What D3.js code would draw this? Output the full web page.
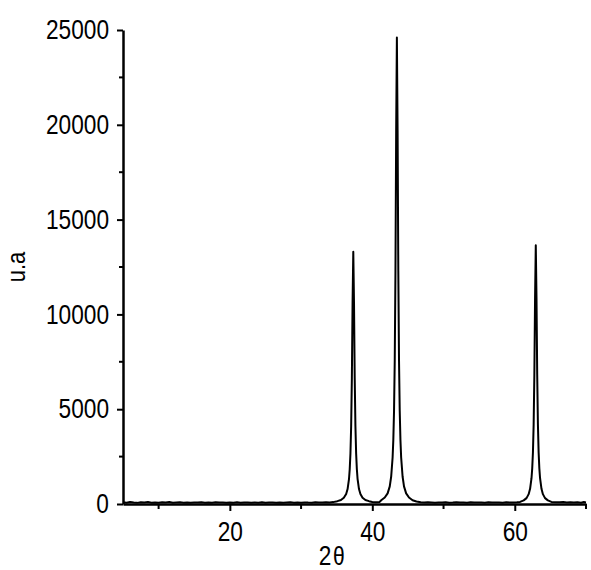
<!DOCTYPE html>
<html><head><meta charset="utf-8">
<script src="https://cdn.jsdelivr.net/npm/d3@7"></script>
<style>
body{margin:0;background:#fff;}
text{font-family:"Liberation Sans",Arial,sans-serif;fill:#000;}
</style></head>
<body><svg id="c" width="591" height="570"></svg>
<script>
const twoTheta = [
  5,5.5,6,6.5,7,7.5,8,8.5,9,9.5,
  10,10.5,11,11.5,12,12.5,13,13.5,14,14.5,
  15,15.5,16,16.5,17,17.5,18,18.5,19,19.5,
  20,20.5,21,21.5,22,22.5,23,23.5,24,24.5,
  25,25.5,26,26.5,27,27.5,28,28.5,29,29.5,
  30,30.5,31,31.5,32,32.5,33,33.5,34,34.5,
  35.1,35.6,36.0,36.33,36.53,36.73,36.83,36.93,37.03,37.13,
  37.23,37.33,37.43,37.53,37.63,37.73,37.83,37.93,38.13,38.33,
  38.63,39.03,39.53,40,40.5,41,41.25,41.75,42.15,42.45,
  42.65,42.85,42.95,43.05,43.15,43.25,43.35,43.45,43.55,43.65,
  43.75,43.85,43.95,44.05,44.25,44.45,44.75,45.15,45.65,46.2,
  46.8,47.3,47.8,48.3,48.8,49.3,49.8,50.3,50.8,51.3,
  51.8,52.3,52.8,53.3,53.8,54.3,54.8,55.3,55.8,56.3,
  56.8,57.3,57.8,58.3,58.8,59.3,59.8,60.3,60.75,61.25,
  61.65,61.95,62.15,62.35,62.45,62.55,62.65,62.75,62.85,62.95,
  63.05,63.15,63.25,63.35,63.45,63.55,63.75,63.95,64.25,64.65,
  65.15,65.8,66.3,66.8,67.3,67.8,68.3,68.8,69.3,69.7,
  70
];
const intensity = [
  90,70,110,80,60,95,75,100,70,85,
  65,90,80,105,70,85,95,70,80,60,
  85,75,95,70,80,65,90,75,85,60,
  80,70,90,65,75,85,60,80,70,90,
  65,75,85,70,80,60,75,90,70,80,
  65,85,75,70,90,80,75,95,85,100,
  150,210,330,530,790,1330,1840,2660,4100,6650,
  10640,13300,10640,6650,4100,2660,1840,1330,790,530,
  330,210,150,110,90,100,200,340,560,930,
  1450,2450,3380,4900,7560,12300,19700,24600,19700,12300,
  7560,4900,3380,2450,1450,930,560,340,200,130,
  95,75,90,80,70,85,75,90,70,80,
  95,75,85,70,90,80,75,85,70,90,
  80,75,85,70,90,80,85,95,110,190,
  310,520,800,1360,1880,2720,4190,6820,10900,13650,
  10900,6820,4190,2720,1880,1360,800,520,310,190,
  110,95,90,110,80,95,75,90,70,100,
  85
];
const xTicksMajor = [20,40,60];
const xTicksMinor = [10,30,50,70];
const yTicksMajor = [0,5000,10000,15000,20000,25000];
const yTicksMinor = [2500,7500,12500,17500,22500];
const xLabel = "2";
const xLabelSym = "θ";
const yLabel = "u.a";

const svg = d3.select("#c");
const x = d3.scaleLinear().domain([5,70]).range([123,586]);
const y = d3.scaleLinear().domain([0,25000]).range([504,30]);
const sx = 0.84;

function squeeze(sel){
  sel.each(function(){
    const w = this.getComputedTextLength();
    d3.select(this).attr("textLength", w*sx).attr("lengthAdjust","spacingAndGlyphs");
  });
}

// data line
const pts = d3.zip(twoTheta, intensity);
svg.append("path").datum(pts)
  .attr("fill","none").attr("stroke","#000").attr("stroke-width",2)
  .attr("stroke-linejoin","round")
  .attr("d", d3.line().x(d=>x(d[0])).y(d=>y(d[1])));

// x axis
const gx = svg.append("g").attr("transform","translate(0,504)");
gx.call(d3.axisBottom(x).tickValues(xTicksMajor).tickSize(7).tickSizeOuter(0).tickPadding(11));
gx.select(".domain").attr("stroke-width",2.5);
gx.selectAll(".tick line").attr("stroke-width",2);
gx.selectAll(".tick text").attr("font-size",27).attr("font-family","Liberation Sans, Arial, sans-serif").call(squeeze);
gx.selectAll(".minor").data(xTicksMinor).enter().append("line").attr("class","minor")
  .attr("x1",d=>x(d)).attr("x2",d=>x(d)).attr("y1",0).attr("y2",5)
  .attr("stroke","#000").attr("stroke-width",2);

// y axis
const gy = svg.append("g").attr("transform","translate(123,0)");
gy.call(d3.axisLeft(y).tickValues(yTicksMajor).tickFormat(d3.format("d")).tickSize(6).tickSizeOuter(0).tickPadding(8));
gy.select(".domain").attr("stroke-width",2.5);
gy.selectAll(".tick line").attr("stroke-width",2);
gy.selectAll(".tick text").attr("font-size",27).attr("font-family","Liberation Sans, Arial, sans-serif").call(squeeze);
gy.selectAll(".minor").data(yTicksMinor).enter().append("line").attr("class","minor")
  .attr("x1",0).attr("x2",-4).attr("y1",d=>y(d)).attr("y2",d=>y(d))
  .attr("stroke","#000").attr("stroke-width",2);

// axis labels
svg.append("text").attr("x",331.5).attr("y",565).attr("text-anchor","end")
  .attr("font-size",27).text(xLabel).call(squeeze);
svg.append("text").attr("x",333).attr("y",565).attr("text-anchor","start")
  .attr("font-family","Liberation Serif, Times New Roman, serif").attr("font-size",25)
  .text(xLabelSym).call(squeeze);

svg.append("text").attr("transform","translate(25,267) rotate(-90)")
  .attr("text-anchor","middle").attr("font-size",26).text(yLabel).call(squeeze);
</script></body></html>
